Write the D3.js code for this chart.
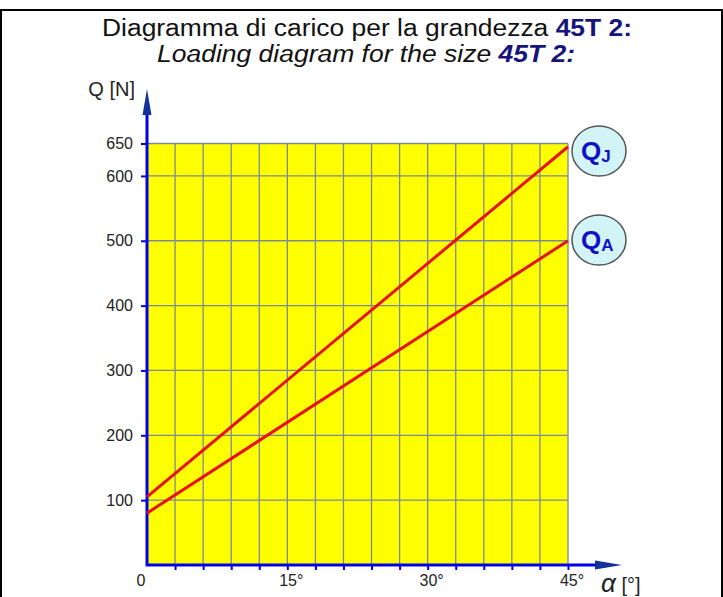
<!DOCTYPE html>
<html>
<head>
<meta charset="utf-8">
<script src="https://cdn.jsdelivr.net/npm/d3@7"></script>
<style>
  body { margin: 0; background: #fff; }
  svg { display: block; font-family: "Liberation Sans", Arial, sans-serif; }
</style>
</head>
<body>
<svg id="chart" width="723" height="597"></svg>
<script>
// data
const alpha = [0, 45]
const qJ = [105, 645]
const qA = [80, 500]
const yTicks = [100, 200, 300, 400, 500, 600, 650]
const xLabels = [0, 15, 30, 45]
const xGrid = [3, 6, 9, 12, 15, 18, 21, 24, 27, 30, 33, 36, 39, 42, 45]
const seriesNames = ["J", "A"]

const svg = d3.select("#chart")

const x = d3.scaleLinear().domain([0, 45]).range([147, 568])
const y = d3.scaleLinear().domain([0, 650]).range([565, 143.5])

// frame
svg.append("path")
    .attr("d", "M1,597 L1,10 L722,10 L722,597")
    .attr("fill", "none")
    .attr("stroke", "#000")
    .attr("stroke-width", 2)

// title
const t1 = svg.append("text")
    .attr("x", 367).attr("y", 36)
    .attr("text-anchor", "middle")
    .attr("textLength", 530)
    .attr("lengthAdjust", "spacingAndGlyphs")
    .style("font-size", "23px")
    .attr("fill", "#111")
t1.append("tspan").text("Diagramma di carico per la grandezza ")
t1.append("tspan").text("45T 2:").attr("font-weight", "bold").attr("fill", "#14147a")

const t2 = svg.append("text")
    .attr("x", 366).attr("y", 62)
    .attr("text-anchor", "middle")
    .attr("textLength", 418)
    .attr("lengthAdjust", "spacingAndGlyphs")
    .style("font-size", "23px")
    .style("font-style", "italic")
    .attr("fill", "#111")
t2.append("tspan").text("Loading diagram for the size ")
t2.append("tspan").text("45T 2:").attr("font-weight", "bold").attr("fill", "#14147a")

// plot background
svg.append("rect")
    .attr("x", x(0)).attr("y", y(650))
    .attr("width", x(45) - x(0)).attr("height", y(0) - y(650))
    .attr("fill", "#ffff00")

// grid
svg.append("g").selectAll("line")
    .data(xGrid)
    .join("line")
    .attr("x1", d => x(d)).attr("x2", d => x(d))
    .attr("y1", y(0)).attr("y2", y(650))
    .attr("stroke", "#7b8a9a")
    .attr("stroke-width", 1.3)

svg.append("g").selectAll("line")
    .data(yTicks)
    .join("line")
    .attr("x1", x(0)).attr("x2", x(45))
    .attr("y1", d => y(d)).attr("y2", d => y(d))
    .attr("stroke", "#7b8a9a")
    .attr("stroke-width", 1.3)

// axes (ticks + labels)
const yAxis = d3.axisLeft(y).tickValues(yTicks).tickSize(6).tickPadding(8)
const gy = svg.append("g").attr("transform", `translate(${x(0)},0)`).call(yAxis)
gy.select(".domain").remove()
gy.selectAll(".tick line").attr("stroke", "#0000ee").attr("stroke-width", 2)
gy.selectAll(".tick text")
    .attr("fill", "#222")
    .style("font-size", "16px")
    .style("font-family", "Liberation Sans, Arial, sans-serif")

const xAxis = d3.axisBottom(x).tickValues(xGrid).tickSize(5).tickFormat("")
const gx = svg.append("g").attr("transform", `translate(0,${y(0)})`).call(xAxis)
gx.select(".domain").remove()
gx.selectAll(".tick line").attr("stroke", "#0000ee").attr("stroke-width", 2)

svg.append("g").selectAll("text")
    .data(xLabels)
    .join("text")
    .attr("x", d => d === 0 ? x(d) - 6 : x(d) + 4)
    .attr("y", y(0) + 21)
    .attr("text-anchor", "middle")
    .attr("fill", "#222")
    .style("font-size", "16px")
    .text(d => d === 0 ? "0" : d + "°")

// axis lines with arrows
svg.append("line")
    .attr("x1", x(0)).attr("x2", x(0))
    .attr("y1", y(0) + 1).attr("y2", 110)
    .attr("stroke", "#0000ee").attr("stroke-width", 3)
svg.append("path")
    .attr("d", `M${x(0)},89 L${x(0) - 4.5},115 L${x(0) + 4.5},115 Z`)
    .attr("fill", "#12329a")

svg.append("line")
    .attr("x1", x(0) - 1).attr("x2", 598)
    .attr("y1", y(0)).attr("y2", y(0))
    .attr("stroke", "#0000ee").attr("stroke-width", 3)
svg.append("path")
    .attr("d", `M622,${y(0)} L595,${y(0) - 4.5} L595,${y(0) + 4.5} Z`)
    .attr("fill", "#12329a")

// axis titles
svg.append("text")
    .attr("x", 135).attr("y", 96)
    .attr("text-anchor", "end")
    .attr("fill", "#222")
    .style("font-size", "20px")
    .text("Q [N]")

const ax = svg.append("text")
    .attr("x", 601).attr("y", 592)
    .attr("fill", "#222")
ax.append("tspan").text("α").style("font-size", "26px").style("font-style", "italic")
ax.append("tspan").text(" [°]").style("font-size", "20px")

// load lines
const line = d3.line().x(d => x(d[0])).y(d => y(d[1]))
const series = [qJ, qA]
svg.append("g").selectAll("path")
    .data(series)
    .join("path")
    .attr("d", s => line(alpha.map((a, i) => [a, s[i]])))
    .attr("fill", "none")
    .attr("stroke", "#e8121c")
    .attr("stroke-width", 3)

// series badges
const badges = svg.append("g").selectAll("g")
    .data(seriesNames)
    .join("g")
    .attr("transform", (d, i) => `translate(599,${i === 0 ? 151 : 240})`)

badges.append("ellipse")
    .attr("rx", 27).attr("ry", 25)
    .attr("fill", "#d2f4f6")
    .attr("stroke", "#555")
    .attr("stroke-width", 1.5)

const bt = badges.append("text")
    .attr("x", -18).attr("y", 9)
    .attr("fill", "#1010c8")
    .attr("font-weight", "bold")
bt.append("tspan").text("Q").style("font-size", "26px")
bt.append("tspan").text(d => d).attr("dy", 2).style("font-size", "17px")
</script>
</body>
</html>
